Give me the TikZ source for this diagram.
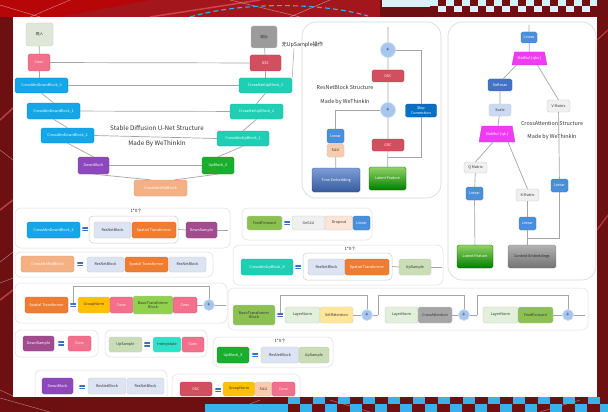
\documentclass[tikz,border=0pt]{standalone}
\usepackage{fontspec}
\setmainfont{Noto Sans CJK SC}
\usetikzlibrary{shapes.geometric}
\definecolor{cpink}{HTML}{F2708C}
\definecolor{cblue}{HTML}{14A6E6}
\definecolor{cteal}{HTML}{1FCFB4}
\definecolor{cpurple}{HTML}{8E48BE}
\definecolor{cplum}{HTML}{A24C90}
\definecolor{cgreen}{HTML}{1AAE2E}
\definecolor{cpeach}{HTML}{F4B183}
\definecolor{cred}{HTML}{D24F60}
\definecolor{corange}{HTML}{EE7D31}
\definecolor{cyellow}{HTML}{FFC000}
\definecolor{clime}{HTML}{92D050}
\definecolor{colive}{HTML}{8CC152}
\definecolor{clav}{HTML}{DCE3F2}
\definecolor{cugreen}{HTML}{C9DDB6}
\definecolor{cinterp}{HTML}{2DE2C6}
\definecolor{clnorm}{HTML}{E2EFDA}
\definecolor{csattn}{HTML}{FFE699}
\definecolor{cgray}{HTML}{A6A6A6}
\definecolor{clinear}{HTML}{4A8FDB}
\definecolor{csoft}{HTML}{4472C4}
\definecolor{cscale}{HTML}{C9DAF2}
\definecolor{cmat}{HTML}{F03CF0}
\definecolor{cmatrix}{HTML}{F0F0F0}
\definecolor{csilu}{HTML}{F8CBAD}
\definecolor{cdrop}{HTML}{FBE5D6}
\definecolor{cskip}{HTML}{0A6FC2}
\definecolor{cplus}{HTML}{A8C6EC}
\definecolor{cline}{HTML}{A5A5A5}
\definecolor{eqblue}{HTML}{3F6FB8}
\definecolor{cin}{HTML}{DFE8D8}
\definecolor{cout}{HTML}{9B9B9B}
\definecolor{bgred}{HTML}{6E1012}
\definecolor{bgmid}{HTML}{A3161C}
\definecolor{ccheck}{HTML}{38B2EA}
\definecolor{ccheckl}{HTML}{D8F1FC}
\begin{document}
\begin{tikzpicture}[x=1pt,y=-1pt,
  every node/.style={inner sep=0.3pt, align=center, font=\fontsize{3.7}{4.2}\selectfont},
  box/.style={rounded corners=1.6pt},
  dk/.style={box, fill=#1, draw=#1!85!black, line width=0.3pt, text=white},
  lt/.style={box, fill=#1, draw=black!22, line width=0.3pt, text=black!80},
  sz/.style 2 args={minimum width=#1pt, minimum height=#2pt},
  conn/.style={draw=cline, line width=0.7pt},
  panel/.style={rounded corners=6pt, draw=black!13, line width=0.5pt},
  bigpanel/.style={rounded corners=14pt, draw=black!16, line width=0.6pt},
  plusc/.style={circle, fill=cplus, draw=cplus!60!white, line width=0.6pt, minimum size=#1pt, inner sep=0, font=\fontsize{5}{5}\selectfont\bfseries, text=csoft!80!black},
  eqs/.style={inner sep=0, minimum width=5.5pt, minimum height=4.2pt, path picture={
     \fill[eqblue] (path picture bounding box.north west) rectangle ([yshift=-1.6pt]path picture bounding box.north east);
     \fill[eqblue] (path picture bounding box.south west) rectangle ([yshift=1.6pt]path picture bounding box.south east);}},
  ttl/.style={font=\fontsize{6.3}{7}\selectfont, text=black!80},
  sttl/.style={font=\fontsize{5.4}{6}\selectfont, text=black!80},
  rep/.style={font=\fontsize{4.2}{5}\selectfont, text=black!85},
  mat/.style={trapezium, trapezium stretches=true, trapezium left angle=65, trapezium right angle=65, fill=cmat, draw=cmat!85!black, line width=0.3pt, text=white, inner sep=0.3pt},
]
\useasboundingbox (0,0) rectangle (608,412);
% ---------- background ----------
\fill[bgred] (0,0) rectangle (608,412);
\fill[bgmid] (0,0) rectangle (380,17);
\fill[red!75!black, opacity=0.7] (0,0) -- (150,0) -- (60,17) -- (0,17) -- cycle;
\draw[white, opacity=0.55, line width=0.4pt] (0,5) -- (40,17) (70,0) -- (30,17) (230,0) -- (300,17) (330,0) -- (290,17);
\draw[red!55!white, opacity=0.5, line width=1.5pt] (150,17) -- (260,0) (0,120) -- (13,108) (0,210) -- (13,200) (0,300) -- (13,290);
\draw[white, opacity=0.5, line width=0.4pt] (0,150) -- (13,160) (0,262) -- (13,252) (0,283) -- (13,278) (0,390) -- (13,396);
\draw[ccheck, line width=1.1pt, dash pattern=on 5pt off 3pt] (190,17) .. controls (240,2) and (320,2) .. (368,16);
\fill[ccheckl] (382,0) rectangle (430,7);
\foreach \x in {430,446,...,598} \fill[ccheckl] (\x,0) rectangle ++(8,6);
\foreach \x in {438,454,...,598} \fill[ccheckl] (\x,6) rectangle ++(8,6);
\fill[white] (13,17) rectangle (597,397);
% ---------- U-Net ----------
\node[lt=cin, sz={27}{23}] (in) at (39.5,34.5) {输入};
\node[dk=cpink, sz={22}{17}] (conv1) at (39,62.5) {Conv};
\node[dk=cblue, sz={53}{15}] (d1) at (41.5,85.5) {CrossAttnDownBlock\_0};
\node[dk=cblue, sz={53}{16}] (d2) at (53.5,111) {CrossAttnDownBlock\_1};
\node[dk=cblue, sz={53}{15}] (d3) at (67.5,135.5) {CrossAttnDownBlock\_2};
\node[dk=cpurple, sz={31}{17}] (db) at (93.5,165.5) {DownBlock};
\node[dk=cpeach, sz={53}{16}] (mid) at (160.5,188) {CrossAttnMidBlock};
\node[dk=cgreen, sz={32}{17}] (ub) at (218,165.5) {UpBlock\_0};
\node[dk=cteal, sz={52}{15}] (u1) at (243,138.5) {CrossAttnUpBlock\_1};
\node[dk=cteal, sz={53}{15}] (u2) at (256.5,111.5) {CrossAttnUpBlock\_2};
\node[dk=cteal, sz={53}{15}] (u3) at (265.5,85.5) {CrossAttnUpBlock\_3};
\node[dk=cred, sz={31}{16}] (gsc) at (265.5,63) {GSC};
\node[lt=cout, sz={26}{22}] (out) at (264,37) {输出};
\node[anchor=west, font=\fontsize{5.3}{6}\selectfont, text=black!85] (note) at (281,45) {无UpSample操作};
\node[ttl] (t1) at (157,128) {Stable Diffusion U-Net Structure};
\node[ttl] (t2) at (157,144) {Made By WeThinkIn};
\draw[conn] (in) -- (conv1);
\draw[conn] (conv1) -- (conv1 |- d1.north);
\draw[conn] (conv1) -- (gsc);
\draw[conn] (d1) -- (u3);
\draw[conn] (d2) -- (u2);
\draw[conn] (d3.east) -- (u1.west);
\draw[conn] (db) -- (ub);
\draw[conn] (d1.south) -- (d2.north);
\draw[conn] (d2.south) -- (d3.north);
\draw[conn] (d3.south) -- (db.north);
\draw[conn] (db.south) -- ([xshift=-10pt]mid.north);
\draw[conn] ([xshift=14pt]mid.north) -- (ub.south);
\draw[conn] (ub.north) -- (u1.south);
\draw[conn] (u1.north) -- (u2.south);
\draw[conn] (u2.north) -- (u3.south);
\draw[conn] (u3) -- (gsc);
\draw[conn] (gsc) -- (out);
\draw[conn, line width=0.5pt] ([xshift=13pt]note.south west) -- (u3.north east);
% ---------- ResNetBlock ----------
\draw[bigpanel] (302,22) rectangle (441,198);
\coordinate (rtop) at (388,27);
\node[plusc=15] (c1) at (388,50) {+};
\node[dk=cred, sz={32}{12}] (g1) at (388,76) {GSC};
\node[plusc=15] (c2) at (388,110) {+};
\node[dk=cred, sz={32}{12}] (g2) at (388,145) {GSC};
\node[box, top color=green!45!lime!70!black!60, bottom color=green!50!black, draw=green!40!black, line width=0.3pt, text=white, sz={37}{23}] (lf) at (387.5,178.5) {Latent Feature};
\node[box, top color=csoft!70!white, bottom color=csoft!80!black, draw=csoft!70!black, line width=0.3pt, text=white, sz={48}{24}] (te) at (336,180) {Time Embedding};
\node[lt=csilu, sz={17}{13}] (silu) at (335.5,150.5) {SiLU};
\node[dk=clinear, sz={17}{14}] (lin) at (335.5,136) {Linear};
\node[dk=cskip, sz={31}{13}] (skip) at (421,110.5) {Skip\\Connection};
\node[sttl] (rt1) at (345,87) {ResNetBlock Structure};
\node[sttl] (rt2) at (345,102) {Made by WeThinkIn};
\coordinate (sk) at (388,157);
\draw[conn] (lf) -- (g2) -- (c2) -- (g1) -- (c1) -- (rtop);
\draw[conn] (sk) -| (skip.south);
\draw[conn] (skip.north) |- (c1.east);
\draw[conn] (te) -- (silu);
\draw[conn] (lin.north) |- (c2.west);
% ---------- CrossAttention ----------
\draw[bigpanel] (448,22) rectangle (596,280);
\coordinate (catop) at (529,25);
\node[dk=clinear, sz={16}{11}] (calin) at (529,37.5) {Linear};
\node[mat, sz={35}{13}] (mm1) at (529.5,58.5) {MatMul ( qkv )};
\node[dk=csoft, sz={24}{12}] (sm) at (500,85) {Softmax};
\node[lt=cscale, sz={22}{12}] (sc) at (500,110) {Scale};
\node[mat, sz={36}{16}] (mm2) at (497,134) {MatMul ( qk )};
\node[lt=cmatrix, sz={23}{12}] (vm) at (558.5,106) {V Matrix};
\node[lt=cmatrix, sz={23}{11}] (qm) at (475.5,167.5) {Q Matrix};
\node[dk=clinear, sz={17}{13}] (ql) at (474.5,193.5) {Linear};
\node[lt=cmatrix, sz={23}{12}] (km) at (527.5,195) {K Matrix};
\node[dk=clinear, sz={17}{13}] (vl) at (559.5,185.5) {Linear};
\node[dk=clinear, sz={17}{13}] (kl) at (527.5,223.5) {Linear};
\node[box, top color=green!45!lime!70!black!60, bottom color=green!50!black, draw=green!40!black, line width=0.3pt, text=white, sz={36}{23}] (lf2) at (475,256.5) {Latent Feature};
\node[box, top color=black!30, bottom color=black!55, draw=black!50, line width=0.3pt, text=black!85, sz={48}{23}] (ce) at (532,256.5) {Context Embeddings};
\node[sttl] (ct1) at (552,123) {CrossAttention Structure};
\node[sttl] (ct2) at (552,137) {Made by WeThinkIn};
\coordinate (vj) at (527.5,238);
\draw[conn] (catop) -- (calin) -- (mm1);
\draw[conn] ([xshift=-13pt]mm1.south) -- ([xshift=3pt]sm.north);
\draw[conn] ([xshift=8pt]mm1.south) -- (vm.north);
\draw[conn] (sm) -- (sc) -- (mm2);
\draw[conn] ([xshift=-4pt]mm2.south) -- (qm.north);
\draw[conn] ([xshift=11pt]mm2.south) -- (km.north);
\draw[conn] (qm) -- (ql) -- (lf2);
\draw[conn] (km) -- (kl);
\draw[conn] (kl.south) -- (kl.south |- ce.north);
\draw[conn] (vm) -- (vl);
\draw[conn] (vl.south) |- (vj);
% ---------- CrossAttnDownBlock_X ----------
\draw[panel] (15,208) rectangle (230,248);
\node[rep] (repA) at (136,211) {1*X个};
\node[dk=cblue, sz={53}{16}] (cadx) at (53.5,230) {CrossAttnDownBlock\_X};
\node[eqs] (eqA) at (85,229) {};
\node[box, draw=black!20, line width=0.5pt, rounded corners=4pt, sz={89}{27}] (grpA) at (133.5,229.5) {};
\node[lt=clav, sz={37}{16}] (rnA) at (112.5,230) {ResNetBlock};
\node[dk=corange, sz={44}{16}] (stA) at (154,230) {Spatial Transformer};
\node[dk=cplum, sz={31}{16}] (dsA) at (201.5,230) {DownSample};
\coordinate (endA) at (228,230);
\draw[conn] (grpA.east) -- (dsA.west);
\draw[conn] (dsA.east) -- (endA);
% ---------- CrossAttnMidBlock ----------
\draw[panel] (15,252) rectangle (213,277);
\node[dk=cpeach, sz={53}{16}] (camb) at (47.5,264) {CrossAttnMidBlock};
\node[eqs] (eqB) at (80,264) {};
\node[lt=clav, sz={37}{15}] (rnB1) at (105.5,264.5) {ResNetBlock};
\node[dk=corange, sz={43}{15}] (stB) at (146.5,264.5) {Spatial Transformer};
\node[lt=clav, sz={37}{15}] (rnB2) at (187.5,264.5) {ResNetBlock};
% ---------- Spatial Transformer ----------
\draw[panel] (15,283) rectangle (227,323);
\node[dk=corange, sz={43}{16}] (stC) at (46.5,305) {Spatial Transformer};
\node[eqs] (eqC) at (73,305) {};
\node[lt=cyellow, sz={32}{16}] (gnC) at (94,305) {GroupNorm};
\node[dk=cpink, sz={23}{16}] (cvC1) at (121.5,305) {Conv};
\node[lt=clime, sz={40}{18}] (btC) at (153,305) {BasicTransformer\\Block};
\node[dk=cpink, sz={24}{16}] (cvC2) at (185,305) {Conv};
\node[plusc=11] (cC) at (209,305) {+};
\coordinate (kC) at (209,286);
\coordinate (endC) at (226,305);
\draw[conn] (cvC2) -- (cC) -- (endC);
\draw[conn] (eqC.north) |- (kC) -- (cC.north);
% ---------- DownSample ----------
\draw[panel] (15,330) rectangle (98,357);
\node[dk=cplum, sz={31}{15}] (dsD) at (38.5,343.5) {DownSample};
\node[eqs] (eqD) at (61,343.5) {};
\node[dk=cpink, sz={23}{15}] (cvD) at (79.5,343.5) {Conv};
% ---------- UpSample ----------
\draw[panel] (105,330) rectangle (207,357);
\node[lt=cugreen, sz={33}{15}] (usE) at (125.5,344.5) {UpSample};
\node[eqs] (eqE) at (147,344.5) {};
\node[lt=cinterp, sz={28}{15}] (ipE) at (167,344.5) {Interpolate};
\node[dk=cpink, sz={22}{15}] (cvE) at (193,344.5) {Conv};
% ---------- DownBlock ----------
\draw[panel] (35,370) rectangle (167,410);
\node[dk=cpurple, sz={31}{16}] (dbF) at (57.5,386) {DownBlock};
\node[eqs] (eqF) at (82,387) {};
\node[lt=clav, sz={38}{16}] (rnF1) at (107,386) {ResNetBlock};
\node[lt=clav, sz={37}{16}] (rnF2) at (145.5,386) {ResNetBlock};
% ---------- GSC ----------
\draw[panel] (172,374) rectangle (300,410);
\node[dk=cred, sz={32}{14}] (gscG) at (196,389) {GSC};
\node[eqs] (eqG) at (218,390) {};
\node[lt=cyellow, sz={32}{14}] (gnG) at (239,389) {GroupNorm};
\node[lt=csilu, sz={17}{14}] (siG) at (263.5,389) {SiLU};
\node[dk=cpink, sz={23}{14}] (cvG) at (283.5,389) {Conv};
% ---------- UpBlock_X ----------
\draw[panel] (213,337) rectangle (333,367);
\node[rep] (repH) at (280,341) {1*X个};
\node[dk=cgreen, sz={32}{16}] (ubH) at (233,355) {UpBlock\_X};
\node[eqs] (eqH) at (255,355) {};
\node[lt=clav, sz={38}{16}] (rnH) at (280,355) {ResNetBlock};
\node[lt=cugreen, sz={30}{16}] (usH) at (314,355) {UpSample};
% ---------- FeedForward ----------
\draw[panel] (242,208) rectangle (372,240);
\node[lt=colive, sz={35}{14}] (ffI) at (264.5,223) {FeedForward};
\node[eqs] (eqI) at (287,223) {};
\node[lt=cmatrix, sz={33}{14}] (geI) at (308.5,223) {GeGLU};
\node[lt=cdrop, sz={28}{14}] (drI) at (339,223) {Dropout};
\node[dk=clinear, sz={17}{14}] (liI) at (361.5,223) {Linear};
% ---------- CrossAttnUpBlock_X ----------
\draw[panel] (233,245) rectangle (443,285);
\node[rep] (repJ) at (350,249) {1*X个};
\node[dk=cteal, sz={52}{16}] (cauJ) at (267,267) {CrossAttnUpBlock\_X};
\node[eqs] (eqJ) at (298,267) {};
\node[box, draw=black!20, line width=0.5pt, rounded corners=4pt, sz={89}{27}] (grpJ) at (347.5,266.5) {};
\node[lt=clav, sz={37}{16}] (rnJ) at (326.5,267) {ResNetBlock};
\node[dk=corange, sz={44}{16}] (stJ) at (367,267) {Spatial Transformer};
\node[lt=cugreen, sz={32}{16}] (usJ) at (415,267) {UpSample};
\coordinate (endJ) at (442,267);
\draw[conn] (grpJ.east) -- (usJ.west);
\draw[conn] (usJ.east) -- (endJ);
% ---------- BasicTransformer Block ----------
\draw[panel] (228,288) rectangle (588,330);
\node[lt=colive, sz={42}{20}] (btK) at (254,315) {BasicTransformer\\Block};
\node[eqs] (eqK) at (280,315) {};
\node[lt=clnorm, sz={35}{16}] (ln1) at (302.5,315) {LayerNorm};
\node[lt=csattn, sz={33}{16}] (sa) at (336.5,315) {SelfAttention};
\node[plusc=11] (cK1) at (367,315) {+};
\node[lt=clnorm, sz={33}{16}] (ln2) at (401.5,315) {LayerNorm};
\node[lt=cgray, sz={34}{16}] (caK) at (435,315) {CrossAttention};
\node[plusc=11] (cK2) at (464,315) {+};
\node[lt=clnorm, sz={35}{16}] (ln3) at (500.5,315) {LayerNorm};
\node[lt=colive, sz={35}{16}] (ffK) at (535.5,315) {FeedForward};
\node[plusc=11] (cK3) at (568,315) {+};
\coordinate (jK1) at (378,315);
\coordinate (jK2) at (477,315);
\coordinate (endK) at (585,315);
\coordinate (tK1) at (367,295);
\coordinate (tK2) at (464,295);
\coordinate (tK3) at (568,295);
\draw[conn] (sa) -- (cK1) -- (jK1);
\draw[conn] (caK) -- (cK2) -- (jK2);
\draw[conn] (ffK) -- (cK3) -- (endK);
\draw[conn] (eqK.north) |- (tK1) -- (cK1.north);
\draw[conn] (jK1) |- (tK2) -- (cK2.north);
\draw[conn] (jK2) |- (tK3) -- (cK3.north);
% ---------- foreground frame ----------
\fill[bgred] (0,397) rectangle (608,412);
\fill[bgred] (597,0) rectangle (608,412);
\draw[red!60!white, opacity=0.5, line width=1.2pt] (597,40) -- (608,30) (597,230) -- (608,215);
\draw[white, opacity=0.5, line width=0.4pt] (0,398) -- (50,412) (230,412) -- (260,400) (330,400) -- (370,412) (540,412) -- (580,400);
\fill[ccheck] (205,404) rectangle (288,412);
\foreach \x in {288,313,...,600} \fill[ccheck] (\x,397) rectangle ++(12,7);
\foreach \x in {300,325,...,600} \fill[ccheck] (\x,404) rectangle ++(12,8);
\end{tikzpicture}
\end{document}
